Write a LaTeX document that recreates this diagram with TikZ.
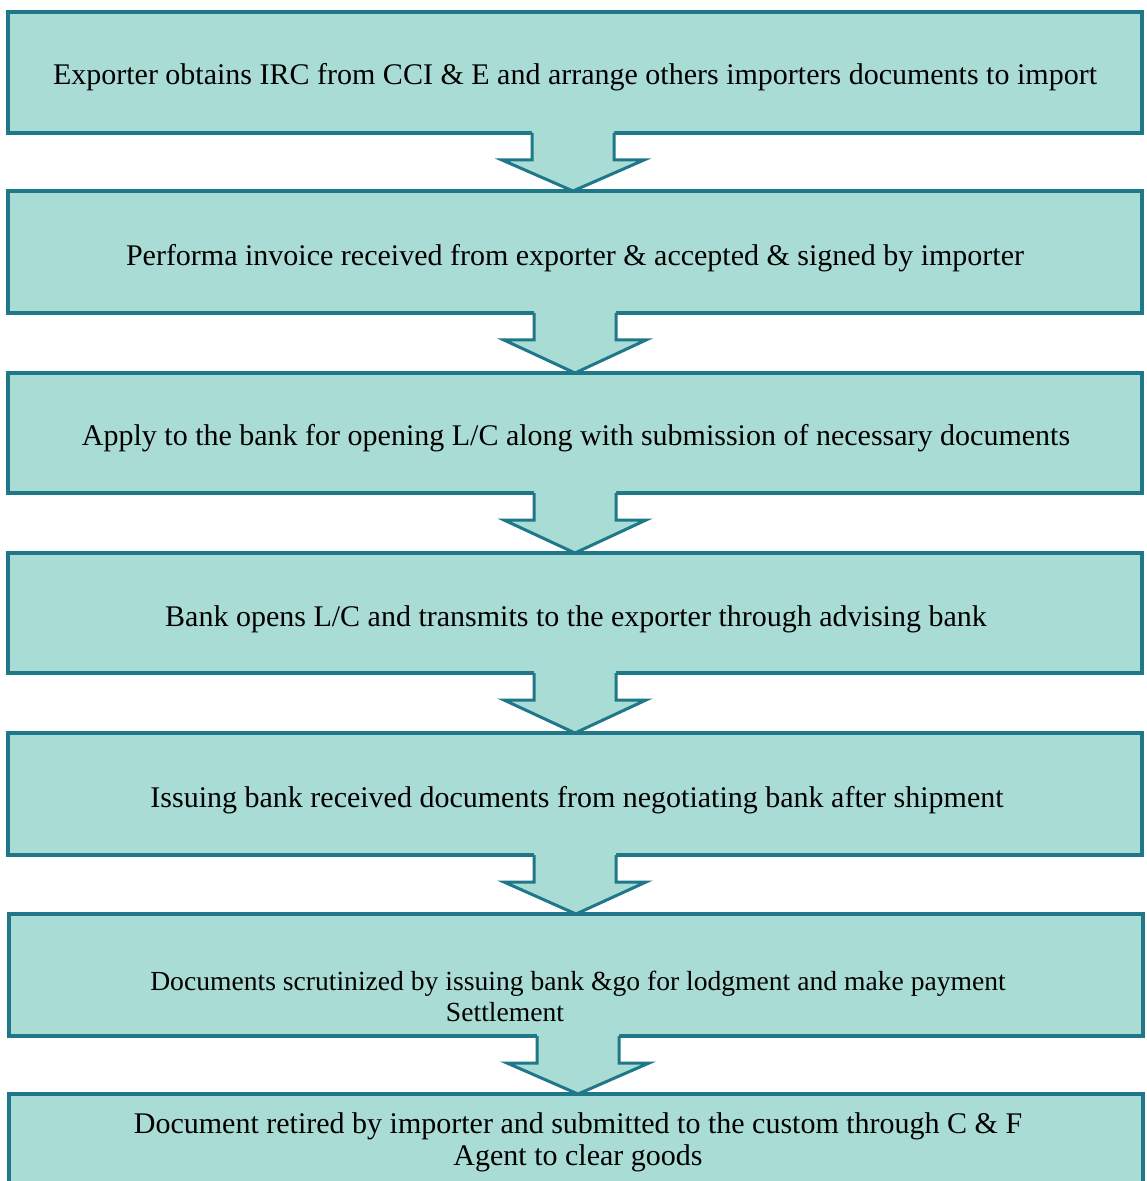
\documentclass[tikz,border=0pt]{standalone}
\usepackage{fontspec}
\setmainfont{Liberation Serif}
\usetikzlibrary{calc}
\definecolor{boxfill}{RGB}{170,220,214}
\definecolor{boxline}{RGB}{30,120,138}
\newcommand\stepflow[3]{%
  % #1 upper box, #2 lower box, #3 horizontal offset (px)
  \coordinate (#1s) at ($(#1.south)+(#3,0)$);
  \coordinate (#2n) at ($(#2.north)+(#3,0)$);
  \fill[boxfill] ($(#1s)+(-41,-4)$) -- ($(#1s)+(-41,27)$) -- ($(#1s)+(-71,27)$) -- (#2n)
     -- ($(#1s)+(71,27)$) -- ($(#1s)+(41,27)$) -- ($(#1s)+(41,-4)$) -- cycle;
  \draw[arrowline] ($(#1s)+(-41,0)$) -- ($(#1s)+(-41,27)$) -- ($(#1s)+(-71,27)$) -- (#2n)
     -- ($(#1s)+(71,27)$) -- ($(#1s)+(41,27)$) -- ($(#1s)+(41,0)$);
}
\begin{document}
\begin{tikzpicture}[x=0.5pt,y=-0.5pt,
  stepbox/.style={draw=boxline, line width=1.6pt, fill=boxfill, rectangle,
    inner sep=0pt, outer sep=0pt, minimum width=567pt},
  arrowline/.style={draw=boxline, line width=1.5pt, line join=miter},
  steptext/.style={font=\fontsize{15}{16}\selectfont, align=center, inner sep=0pt, text=black},
  ]
\useasboundingbox (0,0) rectangle (1146,1181);
\clip (0,0) rectangle (1146,1181);
\fill[white] (0,0) rectangle (1146,1181);

\node[stepbox, minimum height=60.5pt] (b1) at (575,72.5) {};
\node[stepbox, minimum height=61pt] (b2) at (575,252) {};
\node[stepbox, minimum height=60pt] (b3) at (575,433) {};
\node[stepbox, minimum height=60pt] (b4) at (575,613) {};
\node[stepbox, minimum height=61pt] (b5) at (575,794) {};
\node[stepbox, minimum height=61pt] (b6) at (576,975) {};
\node[stepbox, minimum height=47pt] (b7) at (576,1141) {};

\stepflow{b1}{b2}{-2}
\stepflow{b2}{b3}{0}
\stepflow{b3}{b4}{0}
\stepflow{b4}{b5}{0}
\stepflow{b5}{b6}{0}
\stepflow{b6}{b7}{2}

\node[steptext] (t1) at (575,77) {Exporter obtains IRC from CCI \& E and arrange others importers documents to import};
\node[steptext] (t2) at (575,258) {Performa invoice received from exporter \& accepted \& signed by importer};
\node[steptext] (t3) at (576,438) {Apply to the bank for opening L/C along with submission of necessary documents};
\node[steptext] (t4) at (576,619) {Bank opens L/C and transmits to the exporter through advising bank};
\node[steptext] (t5) at (577,800) {Issuing bank received documents from negotiating bank after shipment};
\node[steptext, font=\fontsize{13.8}{15.5}\selectfont] (t6) at (578,996) {Documents scrutinized by issuing bank \&go for lodgment and make payment\\\hspace*{-73pt}Settlement};
\node[steptext] (t7) at (578,1142) {Document retired by importer and submitted to the custom through C \& F\\Agent to clear goods};
\end{tikzpicture}
\end{document}
